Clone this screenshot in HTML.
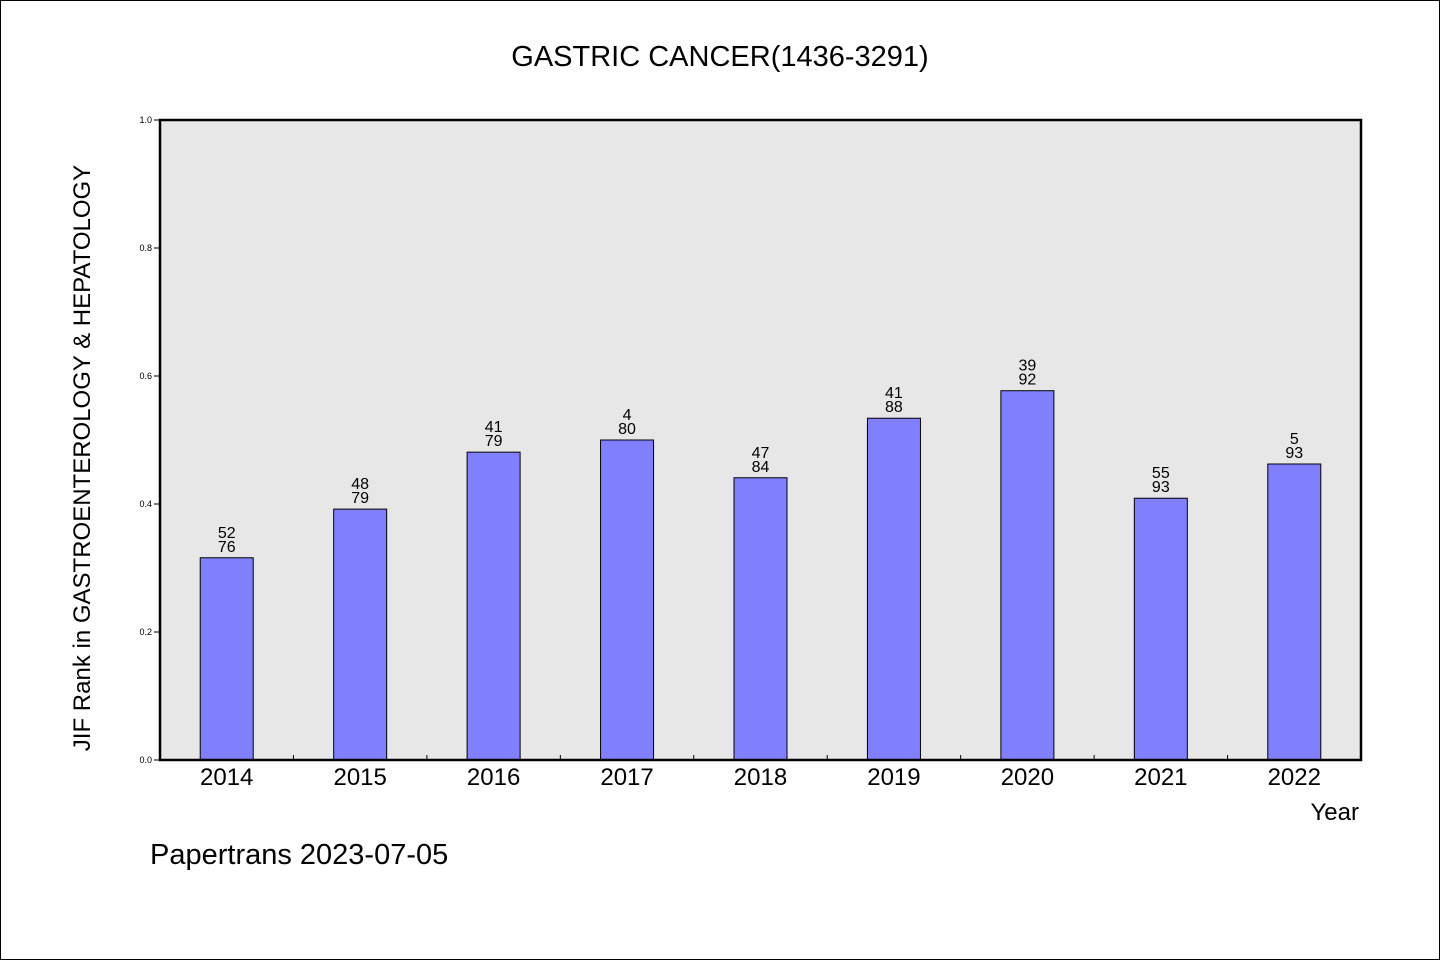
<!DOCTYPE html>
<html><head><meta charset="utf-8"><style>
body{margin:0;background:#fff}
svg{display:block}
text{font-family:"Liberation Sans","WenQuanYi Zen Hei",sans-serif;fill:#000}
</style></head><body>
<svg id="chart" width="1440" height="960" xmlns="http://www.w3.org/2000/svg">
<rect x="0.5" y="0.5" width="1439" height="959" fill="#fff" stroke="#000"/>
<text x="720" y="66" text-anchor="middle" font-size="29" font-family="WenQuanYi Zen Hei, sans-serif">GASTRIC CANCER(1436-3291)</text>
<rect x="160" y="120" width="1201" height="640" fill="#e7e7e7"/>
<g id="bars"></g>
<g id="ticks"></g>
<rect x="160" y="120" width="1201" height="640" fill="none" stroke="#000" stroke-width="2.5"/>
<text transform="translate(90,458) rotate(-90)" text-anchor="middle" font-size="24" font-family="WenQuanYi Zen Hei, sans-serif">JIF Rank in GASTROENTEROLOGY &amp; HEPATOLOGY</text>
<text x="1359" y="820" text-anchor="end" font-size="24" font-family="WenQuanYi Zen Hei, sans-serif">Year</text>
<text x="150" y="864" font-size="29" font-family="WenQuanYi Zen Hei, sans-serif">Papertrans 2023-07-05</text>
</svg>
<script>
const categories=["2014","2015","2016","2017","2018","2019","2020","2021","2022"];
const values=[0.316,0.392,0.481,0.5,0.441,0.534,0.577,0.409,0.4625];
const rankLabels=["52","48","41","4","47","41","39","55","5"];
const totalLabels=["76","79","79","80","84","88","92","93","93"];
const yTicks=[0,0.2,0.4,0.6,0.8,1.0];
const NS="http://www.w3.org/2000/svg";
const X0=160,X1=1361,Y0=760,Y1=120;
const step=(X1-X0)/categories.length;
const xC=i=>X0+step*(i+0.5);
const y=v=>Y0-(Y0-Y1)*v;
function mk(tag,attrs,parent){const e=document.createElementNS(NS,tag);for(const k in attrs)e.setAttribute(k,attrs[k]);parent.appendChild(e);return e;}
const bars=document.getElementById('bars'),ticks=document.getElementById('ticks');
categories.forEach((c,i)=>{
  const bw=53;
  const r=mk('rect',{x:xC(i)-bw/2,y:y(values[i]),width:bw,height:Y0-y(values[i]),fill:'#8080ff',stroke:'#000','stroke-width':1},bars);
  
  
  const t1=mk('text',{x:xC(i),y:y(values[i])-20,'text-anchor':'middle','font-size':16},bars);t1.textContent=rankLabels[i];
  
  
  const t2=mk('text',{x:xC(i),y:y(values[i])-6,'text-anchor':'middle','font-size':16},bars);t2.textContent=totalLabels[i];
  
  
  const xl=mk('text',{x:xC(i),y:785,'text-anchor':'middle','font-size':24,'font-family':'WenQuanYi Zen Hei, sans-serif'},ticks);xl.textContent=c;
  
  
  if(i>0){const l=mk('line',{x1:X0+step*i,x2:X0+step*i,y1:Y0,y2:Y0-5,stroke:'#000'},ticks);
  
  }
});
yTicks.forEach(v=>{
  const l=mk('line',{x1:X0-6,x2:X0,y1:y(v),y2:y(v),stroke:'#000'},ticks);
  
  
  const t=mk('text',{x:X0-8,y:y(v)+3,'text-anchor':'end','font-size':9},ticks);t.textContent=v.toFixed(1);
  
  
});
</script>
</body></html>
